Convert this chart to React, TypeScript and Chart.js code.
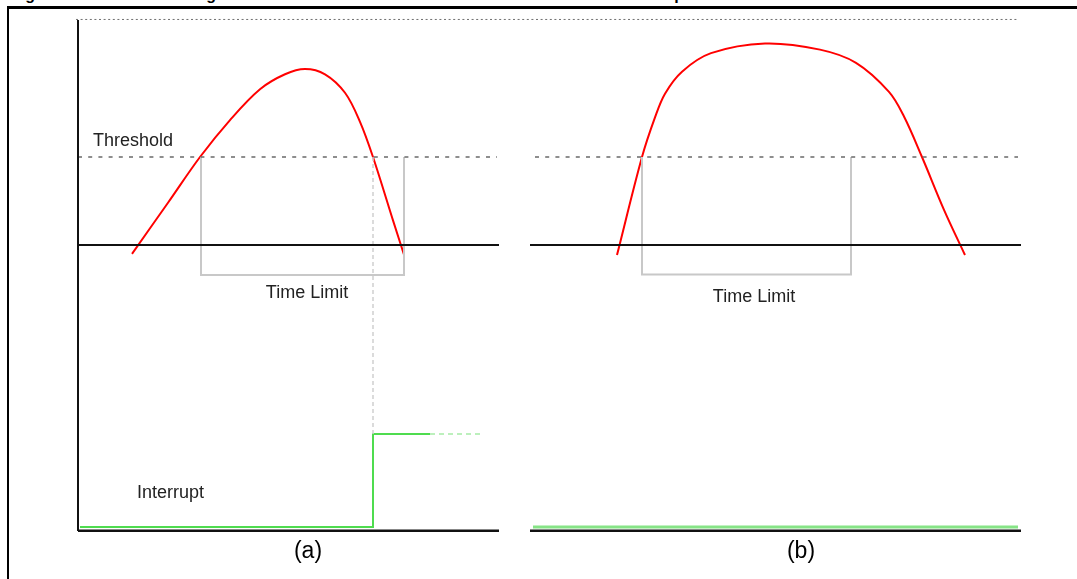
import React, { useEffect, useRef } from "react";
import { Chart, registerables } from "chart.js";

Chart.register(...registerables);

// ---------- DATA ----------
// Signal level units: 0 = baseline, 1 = threshold. Time units are per panel.
const TITLE = "Figure 8. Threshold Timing Detection With and Without the Set Time Limit Event Interrupt";

const THRESHOLD = 1;
const BASELINE = 0;

// Panel (a): short pulse
const SIGNAL_A_T = [54, 90, 122, 152, 182, 207, 227, 247, 267, 282, 295, 315, 326];
const SIGNAL_A_V = [-0.1, 0.48, 1.0, 1.42, 1.77, 1.94, 2.0, 1.94, 1.73, 1.4, 1.0, 0.28, -0.11];

// Panel (b): long pulse
const SIGNAL_B_T = [87, 112, 125, 135, 152, 181, 235, 290, 326, 359, 374, 392, 414, 435];
const SIGNAL_B_V = [-0.114, 1.0, 1.45, 1.72, 1.97, 2.18, 2.29, 2.22, 2.07, 1.74, 1.46, 1.0, 0.4, -0.114];

// Time-limit brackets [start, end] and bracket bottom level
const TIME_LIMIT_A = [123, 326];
const TIME_LIMIT_B = [112, 321];
const TIME_LIMIT_BOTTOM = [-0.34, -0.335];

// Panel extents (time)
const PANEL_A_T = [0, 421];
const PANEL_B_T = [0, 491];
const THRESHOLD_A_T = [0, 419];
const THRESHOLD_B_T = [5, 488];
const TOP_REF_T = [-2, 939];
const TOP_REF_V = 2.563;
const LEFT_AXIS_V = [2.557, -3.25];

// Interrupt-trigger marker (time of threshold exit in panel a)
const TRIGGER_T = 295;
const TRIGGER_V = [1.0, -2.148];

// Interrupt signal (0 = low, 1 = high)
const INT_A_T = [2, 295, 295, 352];
const INT_A_V = [0, 0, 1, 1];
const INT_A_PENDING_T = [352, 402];
const INT_B_T = [3, 488];
const INT_B_V = [0, 0];
const INT_AXIS_V = -0.04;

// Labels
const LABEL_TEXT = ["Threshold", "Time Limit", "Time Limit", "Interrupt", "(a)", "(b)"];
const LABEL_T = [15, 229, 224, 59, 230, 271];
const LABEL_V = [1.18, -0.545, -0.59, 0.366, -0.269, -0.269];
const LABEL_X_AXIS = ["xA", "xA", "xB", "xA", "xA", "xB"];
const LABEL_Y_AXIS = ["ySig", "ySig", "ySig", "yInt", "yInt", "yInt"];

// ---------- HELPERS ----------
const pts = (xs: number[], ys: number[]) => xs.map((x, i) => ({ x, y: ys[i] }));

function ds(
  label: string,
  data: { x: number; y: number }[],
  xAxisID: string,
  yAxisID: string,
  color: string,
  width: number,
  dash: number[] = [],
  tension = 0
) {
  return {
    label,
    data,
    xAxisID,
    yAxisID,
    showLine: true,
    borderColor: color,
    backgroundColor: color,
    borderWidth: width,
    borderDash: dash,
    pointRadius: 0,
    pointHoverRadius: 0,
    fill: false,
    borderCapStyle: "butt" as const,
    borderJoinStyle: "miter" as const,
    tension,
  };
}

const labelPlugin = {
  id: "diagramLabels",
  afterDatasetsDraw(chart: any) {
    const ctx = chart.ctx;
    ctx.save();
    LABEL_TEXT.forEach((text, i) => {
      const xs = chart.scales[LABEL_X_AXIS[i]];
      const ys = chart.scales[LABEL_Y_AXIS[i]];
      const px = xs.getPixelForValue(LABEL_T[i]);
      const py = ys.getPixelForValue(LABEL_V[i]);
      const isPanel = text.startsWith("(");
      ctx.font = isPanel ? '23px "Liberation Sans", Arial, sans-serif' : '18px "Liberation Sans", Arial, sans-serif';
      ctx.fillStyle = isPanel ? "#000000" : "#222222";
      ctx.textBaseline = "middle";
      ctx.textAlign = text === "Threshold" || text === "Interrupt" ? "left" : "center";
      ctx.fillText(text, px, py);
    });
    ctx.restore();
  },
};

export default function App() {
  const ref = useRef<HTMLCanvasElement | null>(null);

  useEffect(() => {
    if (!ref.current) return;
    const RED = "#ff0000";
    const BLACK = "#111111";
    const GRAY = "#c8c8c8";
    const GREEN = "#4fdc4f";
    const DASH_GRAY = "#6a6a6a";

    const datasets = [
      ds("Top reference", pts(TOP_REF_T, [TOP_REF_V, TOP_REF_V]), "xA", "ySig", "#6f6f6f", 1, [2, 2.6]),
      ds("Axis (a)", pts([0, 0], LEFT_AXIS_V), "xA", "ySig", BLACK, 2),
      ds("Baseline (a)", pts(PANEL_A_T, [BASELINE, BASELINE]), "xA", "ySig", BLACK, 2),
      ds("Baseline (b)", pts(PANEL_B_T, [BASELINE, BASELINE]), "xB", "ySig", BLACK, 2),
      ds("Threshold (a)", pts(THRESHOLD_A_T, [THRESHOLD, THRESHOLD]), "xA", "ySig", DASH_GRAY, 1.5, [4, 6.2]),
      ds("Threshold (b)", pts(THRESHOLD_B_T, [THRESHOLD, THRESHOLD]), "xB", "ySig", DASH_GRAY, 1.5, [4, 6.2]),
      ds(
        "Time Limit (a)",
        pts(
          [TIME_LIMIT_A[0], TIME_LIMIT_A[0], TIME_LIMIT_A[1], TIME_LIMIT_A[1]],
          [THRESHOLD, TIME_LIMIT_BOTTOM[0], TIME_LIMIT_BOTTOM[0], THRESHOLD]
        ),
        "xA",
        "ySig",
        GRAY,
        2
      ),
      ds(
        "Time Limit (b)",
        pts(
          [TIME_LIMIT_B[0], TIME_LIMIT_B[0], TIME_LIMIT_B[1], TIME_LIMIT_B[1]],
          [THRESHOLD, TIME_LIMIT_BOTTOM[1], TIME_LIMIT_BOTTOM[1], THRESHOLD]
        ),
        "xB",
        "ySig",
        GRAY,
        2
      ),
      ds("Trigger", pts([TRIGGER_T, TRIGGER_T], TRIGGER_V), "xA", "ySig", "#cfcfcf", 1.5, [4, 3]),
      ds("Signal (a)", pts(SIGNAL_A_T, SIGNAL_A_V), "xA", "ySig", RED, 2, [], 0.35),
      ds("Signal (b)", pts(SIGNAL_B_T, SIGNAL_B_V), "xB", "ySig", RED, 2, [], 0.35),
      ds("Interrupt axis (a)", pts(PANEL_A_T, [INT_AXIS_V, INT_AXIS_V]), "xA", "yInt", BLACK, 2.5),
      ds("Interrupt axis (b)", pts(PANEL_B_T, [INT_AXIS_V, INT_AXIS_V]), "xB", "yInt", BLACK, 2.5),
      ds("Interrupt (a)", pts(INT_A_T, INT_A_V), "xA", "yInt", GREEN, 2),
      ds("Interrupt pending (a)", pts(INT_A_PENDING_T, [1, 1]), "xA", "yInt", "#a6eca6", 1.5, [5, 4]),
      ds("Interrupt (b)", pts(INT_B_T, INT_B_V), "xB", "yInt", "#86e486", 3),
    ];

    const chart = new Chart(ref.current, {
      type: "scatter",
      data: { datasets: datasets as any },
      options: {
        animation: false,
        responsive: false,
        devicePixelRatio: 1,
        layout: { padding: 0 },
        events: [],
        plugins: { legend: { display: false }, tooltip: { enabled: false }, title: { display: false } },
        scales: {
          xA: { type: "linear", position: "bottom", display: false, min: -78, max: 999, bounds: "data" },
          xB: { type: "linear", position: "bottom", display: false, min: -530, max: 547, bounds: "data" },
          ySig: { type: "linear", position: "left", display: false, min: -3.795455, max: 2.784091, bounds: "data" },
          yInt: { type: "linear", position: "left", display: false, min: -0.55914, max: 5.666667, bounds: "data" },
        },
      } as any,
      plugins: [labelPlugin],
    });
    return () => chart.destroy();
  }, []);

  return (
    <div
      style={{
        position: "absolute",
        left: 0,
        top: 0,
        width: 1077,
        height: 579,
        overflow: "hidden",
        background: "#ffffff",
      }}
    >
      <div
        style={{
          position: "absolute",
          left: 11,
          top: -13,
          font: 'bold 16px "Liberation Sans", Arial, sans-serif',
          lineHeight: "16px",
          whiteSpace: "nowrap",
          color: "#000",
        }}
      >
        {TITLE}
      </div>
      <div
        style={{
          position: "absolute",
          left: 7,
          top: 6,
          width: 2000,
          height: 2000,
          borderTop: "3px solid #000",
          borderLeft: "2px solid #000",
        }}
      />
      <canvas ref={ref} width={1077} height={579} style={{ position: "absolute", left: 0, top: 0, display: "block" }} />
    </div>
  );
}
